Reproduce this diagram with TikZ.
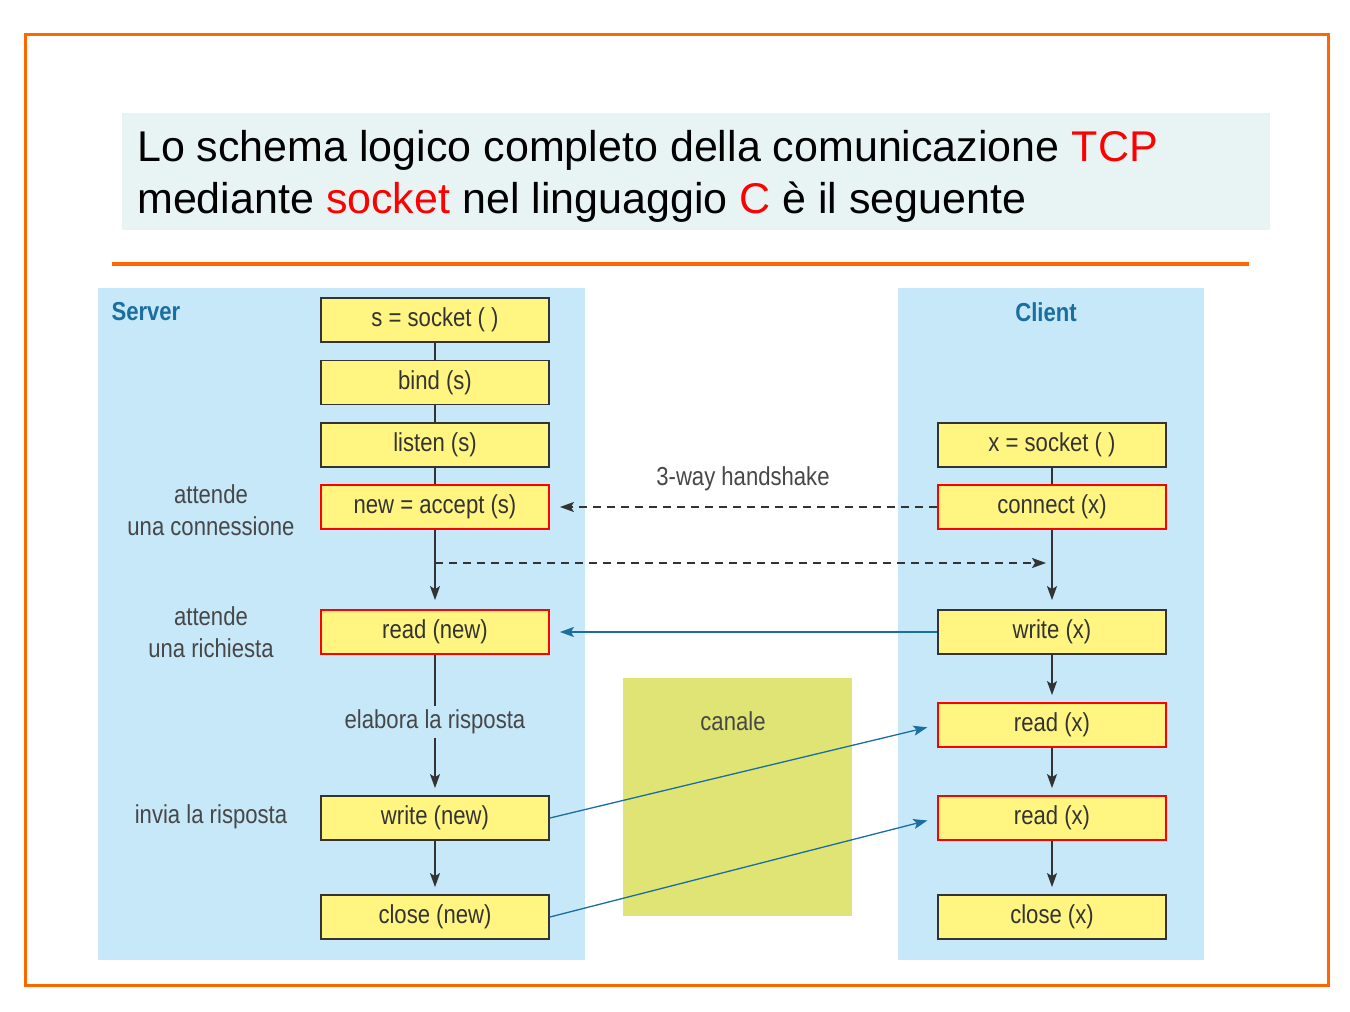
\documentclass[tikz,border=0pt]{standalone}
\usepackage{fontspec}
\setmainfont{Liberation Sans}
\newfontfamily\narrowfont[FakeStretch=0.85]{Liberation Sans}
\usetikzlibrary{arrows.meta}
\definecolor{frameorange}{HTML}{FF6600}
\definecolor{titlebg}{HTML}{E8F4F4}
\definecolor{panelblue}{HTML}{C6E8F8}
\definecolor{boxyellow}{HTML}{FFF580}
\definecolor{canalegreen}{HTML}{DFE474}
\definecolor{linkblue}{HTML}{1A6EA0}
\definecolor{textgray}{HTML}{333333}

\begin{document}
\begin{tikzpicture}[x=1pt,y=-1pt,
  call/.style={draw=textgray,fill=boxyellow,line width=1.8pt,minimum width=228pt,
    minimum height=44pt,inner sep=0pt,text=textgray,font=\narrowfont\fontsize{26}{28}\selectfont},
  wait/.style={call,draw=red},
  lbl/.style={text=textgray!90,align=center,font=\narrowfont\fontsize{26}{32}\selectfont},
  side/.style={text=linkblue,font=\narrowfont\bfseries\fontsize{26}{28}\selectfont},
  flow/.style={line width=1.5pt,draw=textgray},
  hand/.style={flow,dashed,dash pattern=on 8pt off 6pt},
  data/.style={line width=1.3pt,draw=linkblue},
  >={Stealth[length=14pt,width=10pt,inset=3pt]}]
  % page and frame
  \useasboundingbox[fill=white] (0,0) rectangle (1350,1012);
  \draw[frameorange,line width=3pt] (25,34) rectangle (1328,985);
  % title
  \fill[titlebg] (122,113) rectangle (1270,230);
  \node[anchor=base west,inner sep=0pt,font=\fontsize{43}{52}\selectfont] (ttl1) at (137,161)
    {Lo schema logico completo della comunicazione \textcolor{red}{TCP}};
  \node[anchor=base west,inner sep=0pt,font=\fontsize{43}{52}\selectfont] (ttl2) at (137,213)
    {mediante \textcolor{red}{socket} nel linguaggio \textcolor{red}{C} è il seguente};
  \draw[frameorange,line width=4pt] (112,264) -- (1249,264);
  % panels
  \fill[panelblue] (98,288) rectangle (585,960);
  \fill[panelblue] (898,288) rectangle (1204,960);
  \fill[canalegreen] (623,678) rectangle (852,916);
  \node[side,anchor=west] (srv) at (108,312) {Server};
  \node[side] (cli) at (1046,312) {Client};
  \node[lbl] (can) at (733,721) {canale};

  % server side
  \node[call] (sock) at (435,320) {s = socket ( )};
  \node[call] (bind) at (435,382.5) {bind (s)};
  \node[call] (lstn) at (435,445) {listen (s)};
  \node[wait] (acpt) at (435,507) {new = accept (s)};
  \node[wait] (rdnew) at (435,632) {read (new)};
  \node[lbl] (elab) at (435,722) {elabora la risposta};
  \node[call] (wrnew) at (435,818) {write (new)};
  \node[call] (clnew) at (435,917) {close (new)};
  \node[lbl] (att1) at (211,510) {attende\\una connessione};
  \node[lbl] (att2) at (211,632) {attende\\una richiesta};
  \node[lbl] (invia) at (211,817) {invia la risposta};

  % client side
  \node[call] (xsock) at (1052,445) {x = socket ( )};
  \node[wait] (conn) at (1052,507) {connect (x)};
  \node[call] (wrx) at (1052,632) {write (x)};
  \node[wait] (rdx1) at (1052,725) {read (x)};
  \node[wait] (rdx2) at (1052,818) {read (x)};
  \node[call] (clx) at (1052,917) {close (x)};
  \node[lbl] (hs) at (743,479) {3-way handshake};

  \draw[flow] (sock) -- (bind);
  \draw[flow] (bind) -- (lstn);
  \draw[flow] (lstn) -- (acpt);
  \draw[flow,->,shorten >=9pt] (acpt) -- (rdnew);
  \draw[flow] (rdnew) -- (elab);
  \draw[flow,->,shorten >=7pt] (elab) -- (wrnew);
  \draw[flow,->,shorten >=7pt] (wrnew) -- (clnew);

  \draw[flow] (xsock) -- (conn);
  \draw[flow,->,shorten >=9pt] (conn) -- (wrx);
  \draw[flow,->,shorten >=7pt] (wrx) -- (rdx1);
  \draw[flow,->,shorten >=7pt] (rdx1) -- (rdx2);
  \draw[flow,->,shorten >=7pt] (rdx2) -- (clx);

  % handshake and data
  \coordinate (ackl) at (435,563);
  \coordinate (ackr) at (1052,563);
  \draw[hand,->,shorten >=10pt] (conn) -- (acpt);
  \draw[hand,->,shorten >=6pt] (ackl) -- (ackr);
  \draw[data,->,shorten >=10pt] (wrx) -- (rdnew);
  \draw[data,->,shorten >=10pt] (wrnew.east) -- (rdx1.west);
  \draw[data,->,shorten >=10pt] (clnew.east) -- (rdx2.west);
\end{tikzpicture}
\end{document}
